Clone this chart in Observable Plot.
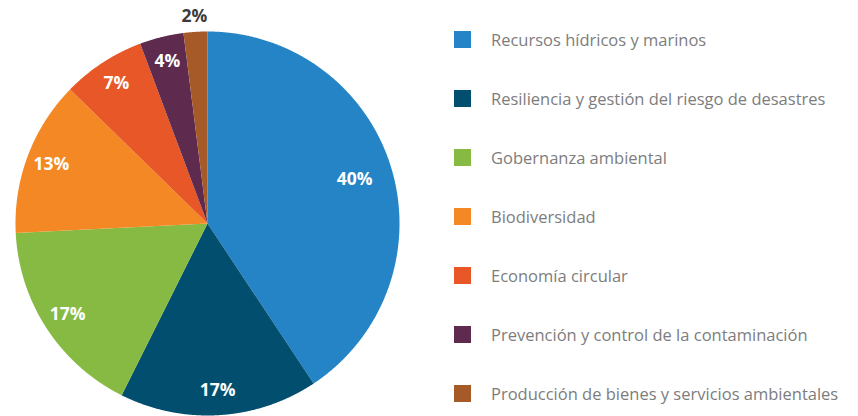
<!DOCTYPE html>
<html>
<head>
<meta charset="utf-8">
<script src="https://cdn.jsdelivr.net/npm/d3@7"></script>
<script src="https://cdn.jsdelivr.net/npm/@observablehq/plot@0.6"></script>
<style>
  html, body { margin: 0; padding: 0; background: #fff; }
  #wrap { position: relative; width: 858px; height: 416px; overflow: hidden; }
  #legend { position: absolute; left: 454px; top: 0; font-family: "Open Sans", sans-serif; }
  .item { position: absolute; left: 0; display: flex; align-items: center; white-space: nowrap; }
  .sw { width: 17px; height: 17px; margin-right: 20px; flex: none; }
  .lab { font-size: 16.5px; color: #7d7d7d; }
</style>
</head>
<body>
<div id="wrap"><div id="chart"></div><div id="legend"></div></div>
<script>
const categories = [
  "Recursos hídricos y marinos",
  "Resiliencia y gestión del riesgo de desastres",
  "Gobernanza ambiental",
  "Biodiversidad",
  "Economía circular",
  "Prevención y control de la contaminación",
  "Producción de bienes y servicios ambientales"
];
const values = [40.7, 16.7, 16.85, 13.1, 7.0, 3.7, 2.0];
const colors = ["#2584C6", "#024E6E", "#86BA42", "#F48824", "#E85727", "#5E2A4E", "#A65A27"];
const labels = ["40%", "17%", "17%", "13%", "7%", "4%", "2%"];

const arcs = d3.pie().sort(null).value(d => d)(values);
const wedgePts = [];
arcs.forEach((a, i) => {
  const name = categories[i];
  wedgePts.push({name, x: 0, y: 0});
  const n = Math.max(2, Math.ceil((a.endAngle - a.startAngle) / (Math.PI / 720)));
  for (let k = 0; k <= n; k++) {
    const t = a.startAngle + (a.endAngle - a.startAngle) * k / n;
    wedgePts.push({name, x: Math.sin(t), y: Math.cos(t)});
  }
  wedgePts.push({name, x: 0, y: 0});
});
const maxV = d3.max(values);
const labelData = arcs.map((a, i) => {
  const m = (a.startAngle + a.endAngle) / 2;
  const outside = values[i] < 3;
  const r = outside ? 1.08 : (values[i] === maxV ? 0.8 : 0.87);
  return {text: labels[i], x: r * Math.sin(m), y: r * Math.cos(m), outside};
});

const chart = Plot.plot({
  width: 858,
  height: 416,
  marginLeft: 15,
  marginRight: 459,
  marginTop: 31,
  marginBottom: 1,
  x: {domain: [-1, 1], axis: null},
  y: {domain: [-1, 1], axis: null},
  color: {domain: categories, range: colors},
  style: {background: "transparent", overflow: "visible"},
  marks: [
    Plot.line(wedgePts, {x: "x", y: "y", z: "name", fill: "name", stroke: "none", curve: "linear"}),
    Plot.text(labelData, {
      x: "x", y: "y", text: "text",
      fill: d => d.outside ? "#3b3b3b" : "#ffffff",
      fontSize: 17.5, fontWeight: 700, fontFamily: "Open Sans, sans-serif",
      letterSpacing: "0.5px"
    })
  ]
});
document.getElementById("chart").appendChild(chart);

const legend = document.getElementById("legend");
const legendTop = 39.5, legendStep = 59;
categories.forEach((c, i) => {
  const it = document.createElement("div");
  it.className = "item";
  it.style.top = (legendTop + i * legendStep - 8.5) + "px";
  it.style.height = "17px";
  const sw = document.createElement("div");
  sw.className = "sw";
  sw.style.background = colors[i];
  const lb = document.createElement("span");
  lb.className = "lab";
  lb.textContent = c;
  it.appendChild(sw); it.appendChild(lb);
  legend.appendChild(it);
});
</script>
</body>
</html>
